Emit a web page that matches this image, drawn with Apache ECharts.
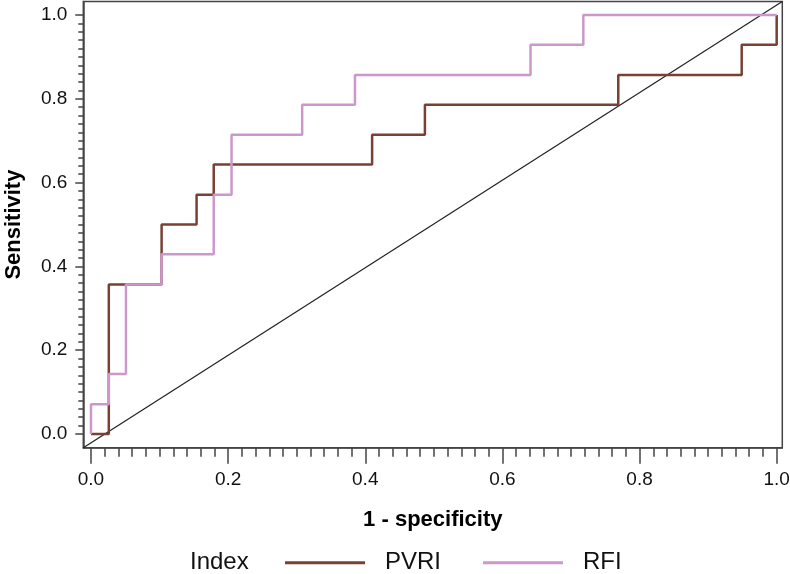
<!DOCTYPE html>
<html>
<head>
<meta charset="utf-8">
<script src="https://cdn.jsdelivr.net/npm/echarts@6/dist/echarts.min.js"></script>
<style>
html,body{margin:0;padding:0;background:#fff;}
#chart{width:790px;height:574px;}
</style>
</head>
<body>
<div id="chart"></div>
<script>
// ROC vertices (1 - specificity, sensitivity); drawn as steps (horizontal then vertical)
const pvriX = [0, 0.026, 0.103, 0.154, 0.179, 0.410, 0.487, 0.769, 0.949, 1.0];
const pvriY = [0, 0.357, 0.500, 0.571, 0.643, 0.714, 0.786, 0.857, 0.929, 1.0];
const rfiX  = [0, 0, 0.026, 0.051, 0.103, 0.179, 0.205, 0.308, 0.385, 0.641, 0.718, 1.0];
const rfiY  = [0, 0.071, 0.143, 0.357, 0.429, 0.571, 0.714, 0.786, 0.857, 0.929, 1.0, 1.0];
const seriesNames = ['PVRI', 'RFI'];
const legendTitle = 'Index';
const majorTicks = [0, 0.2, 0.4, 0.6, 0.8, 1.0];
const tickLabels = ['0.0', '0.2', '0.4', '0.6', '0.8', '1.0'];
const minorTicks = [];
for (let i = 0; i <= 50; i++) { if (i % 10 !== 0) minorTicks.push(+(i * 0.02).toFixed(2)); }

const xMin = -0.0112, xMax = 1.0082, yMin = -0.0327, yMax = 1.0322;

const zip = (a, b) => a.map((v, i) => [v, b[i]]);
const lab = v => { const i = majorTicks.findIndex(t => Math.abs(t - v) < 1e-6); return i >= 0 ? tickLabels[i] : ''; };

const axisColor = '#444';
const chart = echarts.init(document.getElementById('chart'), null, {renderer: 'canvas'});
chart.setOption({
  animation: false,
  backgroundColor: '#fff',
  grid: {left: 83.3, right: 7.7, top: 1.5, bottom: 126.3, show: true, borderColor: axisColor, borderWidth: 1.5,
         backgroundColor: 'transparent', containLabel: false, outerBoundsMode: 'none'},
  xAxis: [
    {type: 'value', min: xMin, max: xMax, position: 'bottom',
     name: '1 - specificity', nameLocation: 'middle', nameGap: 61, nameMoveOverlap: false,
     nameTextStyle: {fontFamily: 'Liberation Sans, Arial', fontSize: 22, fontWeight: 'bold', color: '#000'},
     axisLine: {show: true, onZero: false, lineStyle: {color: axisColor, width: 1.5}},
     axisTick: {show: true, length: 16, customValues: majorTicks, lineStyle: {color: axisColor, width: 1.5}},
     axisLabel: {show: true, customValues: majorTicks, formatter: lab, margin: 23,
       fontFamily: 'Liberation Sans, Arial', fontSize: 19, color: '#111'},
     splitLine: {show: false}},
    {type: 'value', min: xMin, max: xMax, position: 'bottom',
     axisLine: {show: false, onZero: false},
     axisTick: {show: true, length: 9, customValues: minorTicks, lineStyle: {color: axisColor, width: 1.5}},
     axisLabel: {show: false}, splitLine: {show: false}}
  ],
  yAxis: [
    {type: 'value', min: yMin, max: yMax, position: 'left',
     name: 'Sensitivity', nameLocation: 'middle', nameGap: 58, nameRotate: 90, nameMoveOverlap: false,
     nameTextStyle: {fontFamily: 'Liberation Sans, Arial', fontSize: 22, fontWeight: 'bold', color: '#000'},
     axisLine: {show: true, onZero: false, lineStyle: {color: axisColor, width: 1.5}},
     axisTick: {show: true, length: 8, customValues: majorTicks, lineStyle: {color: axisColor, width: 1.5}},
     axisLabel: {show: true, customValues: majorTicks, formatter: lab, margin: 16,
       fontFamily: 'Liberation Sans, Arial', fontSize: 19, color: '#111'},
     splitLine: {show: false}},
    {type: 'value', min: yMin, max: yMax, position: 'left',
     axisLine: {show: false, onZero: false},
     axisTick: {show: true, length: 5, customValues: minorTicks, lineStyle: {color: axisColor, width: 1.5}},
     axisLabel: {show: false}, splitLine: {show: false}}
  ],
  legend: {
    data: seriesNames, left: 285, top: 550.7, padding: 0, icon: 'rect', itemWidth: 80, itemHeight: 3, itemGap: 42,
    textStyle: {fontFamily: 'Liberation Sans, Arial', fontSize: 24, color: '#111', padding: [0, 0, 0, 15]}
  },
  graphic: [{type: 'text', left: 190, top: 550, style: {text: legendTitle, fontFamily: 'Liberation Sans, Arial', fontSize: 24, fill: '#111'}}],
  series: [
    {name: 'diag', type: 'line', data: [[xMin, yMin], [xMax, yMax]], symbol: 'none', silent: true,
     lineStyle: {color: '#222', width: 1.2}, z: 1},
    {name: seriesNames[0], type: 'line', step: 'end', data: zip(pvriX, pvriY), symbol: 'none',
     lineStyle: {color: '#7a4034', width: 2.5}, itemStyle: {color: '#7a4034'}, z: 2},
    {name: seriesNames[1], type: 'line', step: 'end', data: zip(rfiX, rfiY), symbol: 'none',
     lineStyle: {color: '#cc98cc', width: 2.5}, itemStyle: {color: '#cc98cc'}, z: 3}
  ]
});
</script>
</body>
</html>
